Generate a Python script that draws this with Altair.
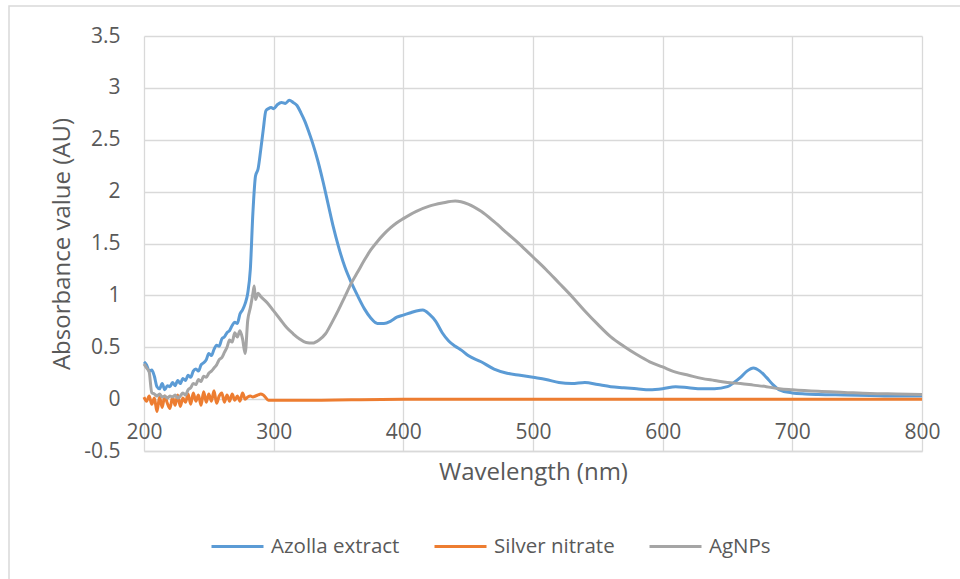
import altair as alt
import pandas as pd

series_names = ["Azolla extract", "Silver nitrate", "AgNPs"]
series_colors = ["#5B9BD5", "#ED7D31", "#A5A5A5"]

x_ticks = [200, 300, 400, 500, 600, 700, 800]
y_ticks = [-0.5, 0, 0.5, 1, 1.5, 2, 2.5, 3, 3.5]

azolla_wl = [200, 202, 204, 206, 208, 210, 212, 214, 216, 218, 220, 222, 224, 226, 228,
             230, 232, 234, 236, 238, 240, 242, 244, 246, 248, 250, 252, 254, 256, 258,
             260, 262, 264, 266, 268, 270, 272, 274, 276, 278, 280, 282, 284, 286, 288,
             290, 292, 294, 296, 298, 300, 303, 306, 309, 312, 315, 318, 321, 324, 327,
             330, 334, 338, 342, 346, 350, 355, 360, 365, 370, 375, 380, 385, 390, 395,
             400, 405, 410, 415, 420, 425, 430, 435, 440, 445, 450, 460, 470, 480, 490,
             500, 510, 520, 530, 540, 550, 560, 570, 580, 590, 600, 610, 620, 630, 640,
             650, 655, 660, 665, 670, 675, 680, 685, 690, 700, 710, 720, 740, 760, 780, 800]
azolla_abs = [0.36, 0.33, 0.27, 0.28, 0.22, 0.12, 0.10, 0.15, 0.09, 0.13, 0.12, 0.16, 0.13, 0.18, 0.15,
              0.20, 0.18, 0.23, 0.21, 0.27, 0.29, 0.27, 0.33, 0.35, 0.38, 0.44, 0.42, 0.48, 0.52, 0.51,
              0.58, 0.60, 0.64, 0.66, 0.71, 0.74, 0.73, 0.82, 0.86, 0.92, 1.02, 1.25, 1.80, 2.15, 2.22,
              2.40, 2.60, 2.78, 2.80, 2.81, 2.80, 2.84, 2.86, 2.85, 2.88, 2.86, 2.83, 2.76, 2.68, 2.58,
              2.47, 2.30, 2.10, 1.88, 1.66, 1.47, 1.27, 1.12, 0.99, 0.87, 0.78, 0.73, 0.73, 0.75, 0.79,
              0.81, 0.83, 0.85, 0.86, 0.82, 0.75, 0.64, 0.56, 0.51, 0.47, 0.42, 0.36, 0.29, 0.25, 0.23,
              0.21, 0.19, 0.16, 0.15, 0.16, 0.14, 0.12, 0.11, 0.10, 0.09, 0.10, 0.12, 0.11, 0.10, 0.10,
              0.12, 0.16, 0.21, 0.27, 0.30, 0.27, 0.21, 0.14, 0.09, 0.06, 0.05, 0.045, 0.04, 0.035, 0.03, 0.03]

silver_wl = [200, 202, 204, 206, 208, 210, 212, 214, 216, 218, 220, 222, 224, 226, 228,
             230, 232, 234, 236, 238, 240, 242, 244, 246, 248, 250, 252, 254, 256, 258,
             260, 262, 264, 266, 268, 270, 272, 274, 276, 278, 280, 282, 284, 286, 288,
             290, 292, 296, 320, 400, 500, 600, 700, 800]
silver_abs = [0.02, -0.02, 0.03, -0.05, 0.01, -0.12, 0.02, -0.08, 0.03, -0.04, -0.09, 0.02, -0.06, 0.04, -0.07,
              0.01, -0.03, 0.05, -0.05, 0.06, -0.02, 0.04, -0.06, 0.07, -0.03, 0.05, -0.02, 0.08, -0.04, 0.03,
              0.06, -0.03, 0.04, -0.02, 0.05, -0.01, 0.03, -0.02, 0.06, 0.00, 0.02, 0.03, 0.02, 0.03, 0.04,
              0.05, 0.04, -0.01, -0.01, 0.0, 0.0, 0.0, 0.0, 0.0]

agnps_wl = [200, 202, 204, 206, 208, 210, 212, 214, 216, 218, 220, 222, 224, 226, 228,
            230, 232, 234, 236, 238, 240, 242, 244, 246, 248, 250, 252, 254, 256, 258,
            260, 262, 264, 266, 268, 270, 272, 274, 276, 278, 280, 282, 284, 285, 286, 288,
            290, 295, 300, 305, 310, 315, 320, 325, 330, 335, 340, 345, 350, 355, 360,
            365, 370, 375, 380, 385, 390, 395, 400, 410, 420, 430, 440, 450, 460, 470,
            480, 490, 500, 510, 520, 530, 540, 550, 560, 570, 580, 590, 600, 610, 620,
            630, 640, 650, 660, 670, 680, 690, 700, 720, 740, 760, 780, 800]
agnps_abs = [0.34, 0.30, 0.26, 0.06, 0.05, 0.03, 0.05, 0.02, 0.03, 0.01, 0.03, 0.02, 0.04, 0.01, 0.03,
             0.06, 0.04, 0.09, 0.11, 0.15, 0.14, 0.19, 0.17, 0.22, 0.21, 0.25, 0.27, 0.30, 0.33, 0.38,
             0.40, 0.45, 0.50, 0.57, 0.55, 0.64, 0.60, 0.66, 0.58, 0.44, 0.76, 0.88, 1.02, 1.09, 0.96, 1.02,
             0.99, 0.93, 0.85, 0.77, 0.69, 0.63, 0.58, 0.545, 0.54, 0.57, 0.63, 0.74, 0.86, 0.99, 1.12,
             1.23, 1.34, 1.44, 1.52, 1.59, 1.65, 1.70, 1.74, 1.81, 1.86, 1.89, 1.91, 1.88, 1.81, 1.71,
             1.60, 1.49, 1.37, 1.25, 1.12, 0.99, 0.85, 0.72, 0.60, 0.51, 0.43, 0.36, 0.31, 0.26, 0.23,
             0.20, 0.18, 0.16, 0.15, 0.135, 0.12, 0.10, 0.09, 0.075, 0.065, 0.055, 0.05, 0.045]

rows = []
for name, wls, vals in [(series_names[0], azolla_wl, azolla_abs),
                        (series_names[1], silver_wl, silver_abs),
                        (series_names[2], agnps_wl, agnps_abs)]:
    for w, v in zip(wls, vals):
        rows.append({"wl": w, "abs": v, "series": name})
df = pd.DataFrame(rows)

FONT = "Open Sans"
TXT = "#595959"
GRID = "#D9D9D9"

border = alt.Chart(pd.DataFrame({"k": [0]})).mark_rect(
    fill="white", fillOpacity=0, stroke=GRID, strokeWidth=1.5
).encode(
    x=alt.value(-135), x2=alt.value(830), y=alt.value(-30), y2=alt.value(560)
)

lines = alt.Chart(df).mark_line(strokeWidth=3, interpolate="monotone").encode(
    x=alt.X("wl:Q",
            scale=alt.Scale(domain=[200, 800], nice=False, zero=False),
            axis=alt.Axis(values=x_ticks, title="Wavelength (nm)", grid=True,
                          gridColor=GRID, gridWidth=1.3, ticks=False,
                          domainColor=GRID, domainWidth=1.3,
                          labelFlush=False, labelOverlap=False,
                          labelPadding=-30, labelFontSize=21, labelColor=TXT,
                          labelFont=FONT, titleFont=FONT, titleFontSize=24,
                          titleFontWeight="normal", titleColor=TXT,
                          titleY=21, titleBaseline="middle")),
    y=alt.Y("abs:Q",
            scale=alt.Scale(domain=[-0.5, 3.5], nice=False, zero=False),
            axis=alt.Axis(values=y_ticks, title="Absorbance value (AU)", grid=True,
                          gridColor=GRID, gridWidth=1.3, ticks=False, domain=False,
                          labelFlush=False, labelOverlap=False,
                          labelPadding=24, labelFontSize=21, labelColor=TXT,
                          labelFont=FONT, labelExpr="toString(datum.value)",
                          titleFont=FONT, titleFontSize=24, titleFontWeight="normal",
                          titleColor=TXT, titleX=-82, titleY=207.5, titleAngle=-90,
                          titleBaseline="middle", titleAlign="center")),
    color=alt.Color("series:N",
                    scale=alt.Scale(domain=series_names, range=series_colors),
                    legend=alt.Legend(title=None, orient="none", direction="horizontal",
                                      legendX=66, legendY=483, symbolType="stroke",
                                      symbolSize=2704, symbolStrokeWidth=3,
                                      labelFontSize=20.5, labelColor=TXT, labelFont=FONT,
                                      labelOffset=6, columnPadding=28)),
)

chart = alt.layer(border, lines).properties(
    width=778, height=415,
    autosize=alt.AutoSizeParams(type="none"),
    padding={"left": 144, "top": 36, "right": 38, "bottom": 128},
    background="white",
).configure_view(strokeWidth=0)

chart.save("out.html", embed_options={"renderer": "svg", "actions": False})
